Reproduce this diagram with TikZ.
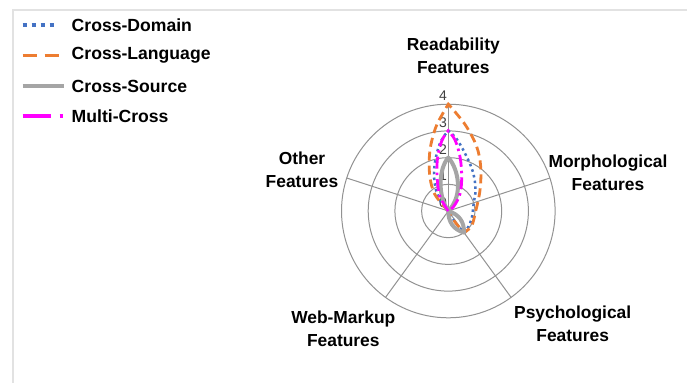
\documentclass[tikz,border=0pt]{standalone}
\usepackage{fontspec}
\setmainfont{Liberation Sans}
\definecolor{cdom}{HTML}{4472C4}
\definecolor{clang}{HTML}{ED7D31}
\definecolor{csrc}{HTML}{A5A5A5}
\definecolor{cmul}{HTML}{FF00FF}
\definecolor{gridc}{HTML}{929292}
\definecolor{framec}{HTML}{E2E2E2}
\definecolor{tickc}{HTML}{404040}
\tikzset{
  lab/.style={font=\fontsize{17.4}{23}\selectfont\bfseries, align=center, inner sep=0pt, text=black},
  legtext/.style={font=\fontsize{17.6}{21}\selectfont\bfseries, anchor=west, inner sep=0pt, text=black},
  ticklab/.style={font=\fontsize{14}{14}\selectfont, anchor=east, inner sep=0pt, text=tickc},
  gridline/.style={draw=gridc, line width=1pt},
  domline/.style={draw=cdom, line width=2.5pt, dash pattern=on 2.5pt off 3.3pt},
  langline/.style={draw=clang, line width=2.8pt, dash pattern=on 9pt off 5pt},
  srcline/.style={draw=csrc, line width=4pt},
  mulline/.style={draw=cmul, line width=2.8pt, dash pattern=on 12pt off 4pt on 2.5pt off 4pt},
}
\begin{document}
\begin{tikzpicture}[x=1pt,y=-1pt]
\useasboundingbox (0,0) rectangle (687,383);
\fill[white] (0,0) rectangle (687,383);
% frame
\draw[framec, line width=1.5pt] (13,383) -- (13,10) -- (687,10);

% legend
\coordinate (l1a) at (22.7,25);   \coordinate (l1b) at (58,25);
\coordinate (l2a) at (22.7,55.7); \coordinate (l2b) at (60,55.7);
\coordinate (l3a) at (22.7,86);   \coordinate (l3b) at (64,86);
\coordinate (l4a) at (22.7,116);  \coordinate (l4b) at (63.5,116);
\draw[draw=cdom, line width=3.5pt, dash pattern=on 4pt off 5pt] (l1a) -- (l1b);
\draw[draw=clang, line width=3.5pt, dash pattern=on 14pt off 8pt] (l2a) -- (l2b);
\draw[draw=csrc, line width=3.8pt] (l3a) -- (l3b);
\draw[draw=cmul, line width=3.8pt, dash pattern=on 28pt off 9pt on 3pt off 9pt] (l4a) -- (l4b);
\node[legtext] (t1) at (71.5,25) {Cross-Domain};
\node[legtext] (t2) at (71.5,55.7) {Cross-Language};
\node[legtext] (t3) at (71.5,86) {Cross-Source};
\node[legtext] (t4) at (71.5,116) {Multi-Cross};

% grid
\coordinate (C) at (448.3,211);
\foreach \r in {26.7,53.4,80.1,106.8} \draw[gridline] (C) circle[radius=\r];
\coordinate (sR) at (448.3,104.2);
\coordinate (sM) at (549.9,178);
\coordinate (sP) at (511.1,297.4);
\coordinate (sW) at (385.5,297.4);
\coordinate (sO) at (346.7,178);
\foreach \s in {sR,sM,sP,sW,sO} \draw[gridline] (C) -- (\s);

% tick labels
\node[ticklab] (k4) at (447,95.5) {4};
\node[ticklab] (k3) at (447,122.3) {3};
\node[ticklab] (k2) at (447,149.2) {2};
\node[ticklab] (k1) at (447,175.8) {1};
\node[ticklab] (k0) at (447,202.5) {0};

% Cross-Domain (blue dotted)
\draw[domline] plot[smooth, tension=0.6] coordinates {(448.3,211) (441.7,203.3) (436,190) (434,173.3) (436,156.7) (441,141) (448.3,130.7)}
  -- plot[smooth, tension=0.6] coordinates {(448.3,130.7) (456.7,139) (466.7,156.7) (473.3,173.3) (475.5,190) (473.7,203) (471.5,219) (466,231) (464,232.6)}
  -- plot[smooth, tension=0.6] coordinates {(464,232.6) (455,222) (448.3,211)};

% Cross-Language (orange dashed)
\draw[langline] plot[smooth, tension=0.6] coordinates {(448.3,211) (440,201.7) (433.3,191) (429.5,173.3) (430,150) (435.5,128) (442.5,114) (448.3,104.2)}
  -- plot[smooth, tension=0.6] coordinates {(448.3,104.2) (456,113) (466.7,127) (476.7,146.7) (480.7,166.7) (480,190) (475.5,212) (471.5,226) (464,232.6)}
  -- plot[smooth, tension=0.6] coordinates {(464,232.6) (455,222) (448.3,211)};

% Cross-Source (gray solid)
\draw[srcline, line join=round] (C) .. controls (437,195) and (439,168) .. (448.3,157.6)
  .. controls (458,168) and (464,195) .. (C)
  .. controls (459,214.4) and (464.3,221.7) .. (464,232.6)
  .. controls (453.5,229.5) and (448.2,222.2) .. (C);

% Multi-Cross (magenta dash-dot)
\draw[mulline] plot[smooth, tension=0.6] coordinates {(448.3,211) (440,196.7) (437.3,180) (437.3,160) (441.7,141) (448.3,130.7)}
  -- plot[smooth, tension=0.6] coordinates {(448.3,130.7) (455,140) (460,156.7) (461.7,176.7) (460,194) (454,206) (448.3,211)};

% axis labels
\node[lab] (lR) at (453.3,55.7) {Readability\\Features};
\node[lab] (lM) at (608,173) {Morphological\\Features};
\node[lab] (lP) at (572.7,324.2) {Psychological\\Features};
\node[lab] (lW) at (343.3,329.2) {Web-Markup\\Features};
\node[lab] (lO) at (302,169.7) {Other\\Features};
\end{tikzpicture}
\end{document}
